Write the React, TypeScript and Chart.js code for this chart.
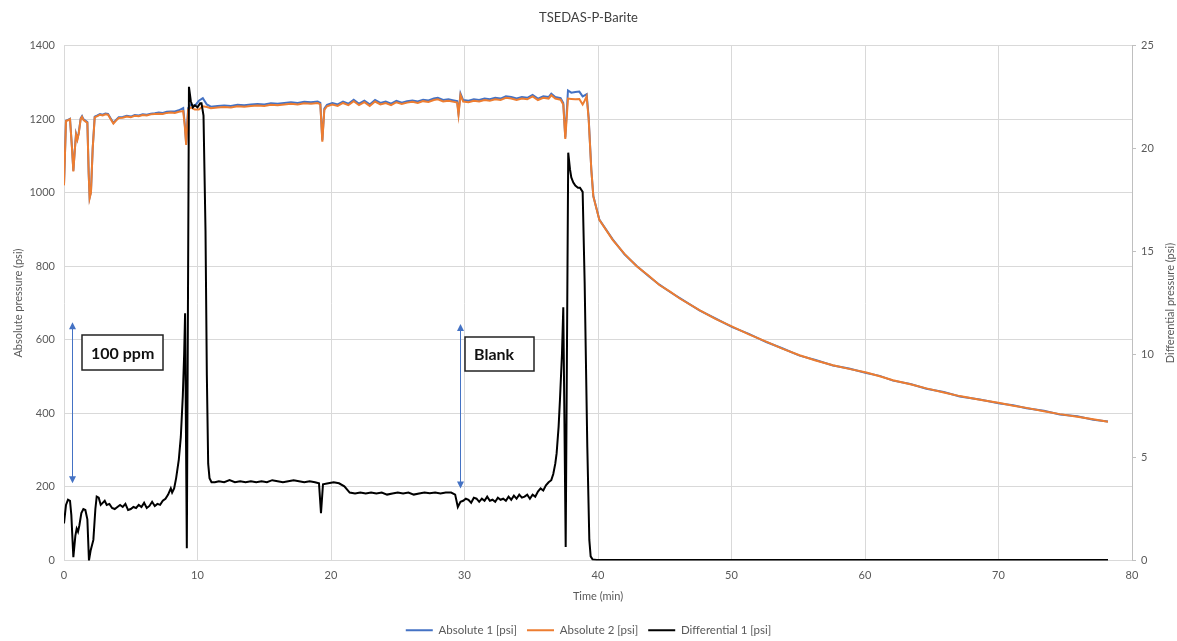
import React, { useEffect, useRef } from 'react';
import { Chart, registerables } from 'chart.js';

Chart.register(...registerables);

const FONT = 'Lato, "Open Sans", sans-serif';
const TEXT_COLOR = '#595959';

// ---- Data (time in minutes) ----
const absTime = [
  0.0, 0.15, 0.3, 0.45, 0.6, 0.7, 0.8, 0.9, 1.0, 1.1,
  1.25, 1.35, 1.45, 1.6, 1.75, 1.85, 1.92, 2.02, 2.15, 2.3,
  2.5, 2.7, 2.9, 3.1, 3.3, 3.5, 3.7, 3.9, 4.1, 4.4,
  4.7, 5.0, 5.3, 5.6, 5.9, 6.2, 6.5, 6.8, 7.1, 7.4,
  7.7, 8.0, 8.3, 8.6, 8.93, 9.05, 9.15, 9.3, 9.5, 9.8,
  10.1, 10.4, 10.7, 11.0, 11.5, 12.0, 12.5, 13.0, 13.5, 14.0,
  14.5, 15.0, 15.5, 16.0, 16.5, 17.0, 17.5, 18.0, 18.5, 19.0,
  19.2, 19.35, 19.5, 19.7, 20.1, 20.5, 20.9, 21.3, 21.7, 22.1,
  22.5, 22.9, 23.3, 23.7, 24.1, 24.5, 24.9, 25.3, 25.7, 26.1,
  26.5, 26.9, 27.3, 27.7, 28.0, 28.4, 28.8, 29.2, 29.45, 29.55,
  29.7, 29.9, 30.3, 30.7, 31.1, 31.5, 31.9, 32.3, 32.7, 33.1,
  33.5, 33.9, 34.3, 34.7, 35.1, 35.5, 35.9, 36.3, 36.5, 36.8,
  37.2, 37.4, 37.55, 37.75, 38.0, 38.3, 38.6, 38.85, 39.0, 39.15,
  39.3, 39.5, 39.65, 40.1, 41.1, 42.0, 42.9, 43.8, 44.6, 45.4,
  46.1, 47.6, 48.8, 50.1, 51.3, 52.6, 53.8, 55.1, 56.3, 57.6,
  58.8, 60.1, 61.1, 62.1, 63.4, 64.6, 65.9, 67.1, 68.6, 70.1,
  71.1, 72.1, 73.4, 74.6, 75.9, 77.1, 78.2,
];

const absolute1 = [
  1022, 1196, 1198, 1201, 1122, 1060, 1112, 1160, 1146, 1162,
  1202, 1208, 1200, 1196, 1192, 1052, 987, 1002, 1122, 1207,
  1210, 1214, 1212, 1215, 1214, 1202, 1190, 1198, 1205, 1206,
  1209, 1207, 1211, 1210, 1213, 1212, 1215, 1216, 1218, 1217,
  1220, 1221, 1221, 1224, 1230, 1186, 1134, 1230, 1240, 1236,
  1250, 1257, 1240, 1234, 1236, 1237, 1236, 1239, 1238, 1240,
  1241, 1240, 1243, 1242, 1244, 1246, 1244, 1247, 1246, 1248,
  1244, 1143, 1229, 1239, 1244, 1240, 1248, 1242, 1253, 1242,
  1250, 1240, 1252, 1244, 1248, 1242, 1250, 1245, 1249, 1251,
  1248, 1253, 1251, 1256, 1258, 1252, 1254, 1251, 1249, 1216,
  1270, 1252, 1250, 1254, 1252, 1256, 1254, 1258, 1256, 1262,
  1260, 1256, 1260, 1258, 1266, 1256, 1262, 1260, 1269, 1260,
  1257, 1244, 1150, 1278, 1272, 1274, 1275, 1262, 1265, 1268,
  1205, 1063, 991, 927, 873, 832, 801, 773, 750, 730,
  714, 680, 658, 634, 616, 594, 577, 557, 545, 530,
  522, 510, 502, 489, 480, 467, 458, 446, 438, 427,
  422, 414, 407, 397, 392, 383, 378,
];

const absolute2 = [
  1020, 1195, 1197, 1200, 1120, 1058, 1110, 1158, 1144, 1160,
  1200, 1206, 1198, 1194, 1190, 1050, 985, 1000, 1120, 1205,
  1208, 1212, 1210, 1213, 1212, 1200, 1188, 1196, 1203, 1204,
  1207, 1205, 1209, 1208, 1211, 1210, 1213, 1214, 1215, 1214,
  1217, 1218, 1217, 1220, 1222, 1180, 1130, 1226, 1232, 1226,
  1226, 1235, 1233, 1230, 1232, 1233, 1232, 1235, 1234, 1236,
  1237, 1236, 1239, 1238, 1240, 1242, 1240, 1243, 1242, 1244,
  1240, 1139, 1225, 1235, 1240, 1236, 1244, 1238, 1249, 1238,
  1246, 1236, 1248, 1240, 1244, 1238, 1246, 1241, 1245, 1247,
  1244, 1249, 1247, 1252, 1254, 1248, 1250, 1247, 1245, 1212,
  1266, 1248, 1246, 1250, 1248, 1252, 1250, 1254, 1252, 1258,
  1256, 1252, 1256, 1254, 1262, 1252, 1258, 1256, 1265, 1256,
  1253, 1240, 1146, 1256, 1255, 1254, 1255, 1240, 1250, 1262,
  1200, 1062, 990, 926, 872, 833, 800, 774, 749, 731,
  713, 681, 657, 635, 615, 595, 576, 558, 544, 531,
  521, 511, 501, 490, 479, 468, 457, 447, 437, 428,
  421, 415, 406, 398, 391, 384, 377,
];

const diffTime = [
  0.0, 0.15, 0.3, 0.45, 0.55, 0.7, 0.85, 0.95, 1.05, 1.15,
  1.3, 1.45, 1.6, 1.75, 1.87, 2.0, 2.2, 2.35, 2.45, 2.6,
  2.75, 2.9, 3.05, 3.2, 3.4, 3.6, 3.8, 4.0, 4.2, 4.4,
  4.6, 4.8, 5.0, 5.2, 5.4, 5.6, 5.8, 6.0, 6.2, 6.4,
  6.6, 6.8, 7.0, 7.2, 7.4, 7.6, 7.8, 8.0, 8.1, 8.25,
  8.4, 8.6, 8.75, 8.9, 9.0, 9.07, 9.2, 9.36, 9.5, 9.65,
  9.8, 10.0, 10.2, 10.3, 10.45, 10.6, 10.7, 10.8, 10.9, 11.05,
  11.3, 11.6, 12.0, 12.4, 12.8, 13.2, 13.6, 14.0, 14.4, 14.8,
  15.2, 15.6, 16.0, 16.4, 16.8, 17.2, 17.6, 18.0, 18.4, 18.8,
  19.1, 19.25, 19.4, 19.8, 20.2, 20.6, 21.0, 21.4, 21.8, 22.2,
  22.6, 23.0, 23.4, 23.8, 24.2, 24.6, 25.0, 25.4, 25.8, 26.2,
  26.6, 27.0, 27.4, 27.8, 28.2, 28.6, 29.0, 29.3, 29.5, 29.7,
  29.9, 30.1, 30.3, 30.5, 30.7, 30.9, 31.1, 31.3, 31.5, 31.7,
  31.9, 32.1, 32.3, 32.5, 32.7, 32.9, 33.1, 33.3, 33.5, 33.7,
  33.9, 34.1, 34.3, 34.5, 34.7, 34.9, 35.1, 35.3, 35.5, 35.7,
  35.9, 36.1, 36.3, 36.5, 36.65, 36.8, 36.9, 37.05, 37.15, 37.3,
  37.4, 37.58, 37.77, 37.9, 38.0, 38.15, 38.3, 38.5, 38.65, 38.85,
  39.0, 39.2, 39.35, 39.45, 39.6, 39.9, 45.0, 50.0, 60.0, 70.0,
  78.2,
];

const differential1 = [
  1.8, 2.7, 2.95, 2.9, 2.2, 0.16, 1.2, 1.55, 1.4, 1.7,
  2.3, 2.5, 2.45, 2.0, 0.0, 0.5, 1.0, 2.5, 3.1, 3.05,
  2.7, 2.8, 2.9, 2.7, 2.75, 2.55, 2.5, 2.6, 2.7, 2.6,
  2.75, 2.45, 2.5, 2.6, 2.55, 2.7, 2.6, 2.8, 2.55, 2.65,
  2.85, 2.65, 2.75, 2.7, 2.9, 3.0, 3.2, 3.5, 3.3, 3.5,
  4.0, 4.9, 6.0, 8.0, 10.0, 12.0, 0.6, 23.0, 22.3, 22.0,
  22.1, 22.0, 22.2, 22.2, 21.6, 16.0, 9.0, 4.7, 4.0, 3.8,
  3.8, 3.85, 3.8, 3.9, 3.8, 3.85, 3.8, 3.85, 3.8, 3.85,
  3.8, 3.9, 3.85, 3.8, 3.85, 3.9, 3.85, 3.8, 3.85, 3.8,
  3.75, 2.3, 3.7, 3.75, 3.8, 3.75, 3.6, 3.3, 3.25, 3.3,
  3.25, 3.3, 3.25, 3.3, 3.2, 3.25, 3.3, 3.25, 3.3, 3.2,
  3.25, 3.3, 3.27, 3.3, 3.25, 3.3, 3.3, 3.2, 2.6, 2.85,
  2.9, 3.0, 2.95, 2.8, 3.05, 3.0, 2.85, 3.0, 2.9, 3.1,
  2.9, 2.95, 2.85, 3.05, 2.95, 3.0, 2.9, 3.1, 2.95, 3.15,
  3.0, 3.2, 3.05, 3.1, 3.2, 3.0, 3.2, 3.1, 3.35, 3.5,
  3.4, 3.65, 3.8, 3.9, 4.2, 4.7, 5.2, 6.5, 7.8, 10.0,
  12.3, 0.65, 19.8, 19.0, 18.6, 18.35, 18.2, 18.1, 18.1, 17.9,
  13.5, 5.5, 1.0, 0.2, 0.05, 0.03, 0.03, 0.03, 0.03, 0.03,
  0.03,
];

const seriesLabels = ['Absolute 1 [psi]', 'Absolute 2 [psi]', 'Differential 1 [psi]'];

// ---- Annotations (in data units: minutes, absolute psi) ----
const arrowTimes = [0.6, 29.65];
const arrowLow = [210, 196];
const arrowHigh = [648, 643];
const noteTexts = ['100 ppm', 'Blank'];
const noteLeft = [1.35, 30.0];
const noteRight = [7.4, 35.2];
const noteTop = [613, 607];
const noteBottom = [517, 515];

const annotationPlugin = {
  id: 'notes',
  afterDatasetsDraw(chart: any) {
    const { ctx } = chart;
    const xs = chart.scales.x;
    const ys = chart.scales.y;
    ctx.save();
    arrowTimes.forEach((t, i) => {
      const px = Math.round(xs.getPixelForValue(t)) + 0.5;
      const yLow = ys.getPixelForValue(arrowLow[i]);
      const yHigh = ys.getPixelForValue(arrowHigh[i]);
      ctx.strokeStyle = '#4472C4';
      ctx.fillStyle = '#4472C4';
      ctx.lineWidth = 1;
      ctx.beginPath();
      ctx.moveTo(px, yLow - 5);
      ctx.lineTo(px, yHigh + 5);
      ctx.stroke();
      ctx.beginPath();
      ctx.moveTo(px, yHigh);
      ctx.lineTo(px - 3.5, yHigh + 7);
      ctx.lineTo(px + 3.5, yHigh + 7);
      ctx.closePath();
      ctx.fill();
      ctx.beginPath();
      ctx.moveTo(px, yLow);
      ctx.lineTo(px - 3.5, yLow - 7);
      ctx.lineTo(px + 3.5, yLow - 7);
      ctx.closePath();
      ctx.fill();
    });
    noteTexts.forEach((txt, i) => {
      const l = Math.round(xs.getPixelForValue(noteLeft[i]));
      const r = Math.round(xs.getPixelForValue(noteRight[i]));
      const top = Math.round(ys.getPixelForValue(noteTop[i]));
      const b = Math.round(ys.getPixelForValue(noteBottom[i]));
      ctx.fillStyle = '#ffffff';
      ctx.fillRect(l, top, r - l, b - top);
      ctx.strokeStyle = '#222222';
      ctx.lineWidth = 1.5;
      ctx.strokeRect(l, top, r - l, b - top);
      ctx.fillStyle = '#111111';
      ctx.font = `bold 16px ${FONT}`;
      ctx.textAlign = 'left';
      ctx.textBaseline = 'middle';
      ctx.fillText(txt, l + 9, (top + b) / 2 + 1);
    });
    ctx.restore();
  },
};

const rightTitlePlugin = {
  id: 'rightTitle',
  afterDraw(chart: any) {
    const { ctx, chartArea } = chart;
    ctx.save();
    ctx.translate(1170, (chartArea.top + chartArea.bottom) / 2);
    ctx.rotate(-Math.PI / 2);
    ctx.font = `11px ${FONT}`;
    ctx.fillStyle = TEXT_COLOR;
    ctx.textAlign = 'center';
    ctx.textBaseline = 'middle';
    ctx.fillText('Differential pressure (psi)', 0, 0);
    ctx.restore();
  },
};

const plainNumber = (v: any) => String(v);

export default function App() {
  const ref = useRef<HTMLCanvasElement>(null);

  useEffect(() => {
    if (!ref.current) return;
    const tickFont = { family: FONT, size: 11 };
    const chart = new Chart(ref.current, {
      type: 'line',
      data: {
        datasets: [
          {
            label: seriesLabels[0],
            data: absTime.map((t, i) => ({ x: t, y: absolute1[i] })),
            borderColor: '#4472C4',
            backgroundColor: '#4472C4',
            borderWidth: 2,
            pointRadius: 0,
            tension: 0,
            yAxisID: 'y',
            order: 2,
          },
          {
            label: seriesLabels[1],
            data: absTime.map((t, i) => ({ x: t, y: absolute2[i] })),
            borderColor: '#ED7D31',
            backgroundColor: '#ED7D31',
            borderWidth: 2,
            pointRadius: 0,
            tension: 0,
            yAxisID: 'y',
            order: 1,
          },
          {
            label: seriesLabels[2],
            data: diffTime.map((t, i) => ({ x: t, y: differential1[i] })),
            borderColor: '#000000',
            backgroundColor: '#000000',
            borderWidth: 2,
            pointRadius: 0,
            tension: 0,
            yAxisID: 'y1',
            order: 0,
          },
        ],
      },
      options: {
        responsive: true,
        maintainAspectRatio: false,
        animation: false,
        events: [],
        layout: { padding: 0 },
        plugins: {
          title: {
            display: true,
            text: 'TSEDAS-P-Barite',
            color: '#404040',
            font: { family: FONT, size: 13, weight: 'normal' },
            padding: { top: 10, bottom: 20 },
          },
          legend: {
            position: 'bottom',
            labels: {
              usePointStyle: true,
              pointStyle: 'line',
              pointStyleWidth: 27,
              color: TEXT_COLOR,
              font: { family: FONT, size: 11.5 },
              padding: 10,
              sort: (a: any, b: any) => a.datasetIndex - b.datasetIndex,
            },
          },
          tooltip: { enabled: false },
        },
        scales: {
          x: {
            type: 'linear',
            min: 0,
            max: 80,
            ticks: { stepSize: 10, color: TEXT_COLOR, font: tickFont, padding: 8, callback: plainNumber },
            grid: { color: '#D9D9D9', drawTicks: false },
            border: { display: false },
            title: {
              display: true,
              text: 'Time (min)',
              color: TEXT_COLOR,
              font: tickFont,
              padding: { top: 0, bottom: 11 },
            },
            afterFit: (s: any) => { s.height = 54; },
          },
          y: {
            type: 'linear',
            position: 'left',
            min: 0,
            max: 1400,
            ticks: { stepSize: 200, color: TEXT_COLOR, font: tickFont, padding: 9, callback: plainNumber },
            grid: { color: '#D9D9D9', drawTicks: false },
            border: { display: false },
            title: {
              display: true,
              text: 'Absolute pressure (psi)',
              color: TEXT_COLOR,
              font: tickFont,
              padding: { top: 12, bottom: 0 },
            },
            afterFit: (s: any) => { s.width = 64; },
          },
          y1: {
            type: 'linear',
            position: 'right',
            min: 0,
            max: 25,
            ticks: { stepSize: 5, color: TEXT_COLOR, font: tickFont, padding: 5, callback: plainNumber },
            grid: { drawOnChartArea: false, color: '#BFBFBF', tickLength: 4 },
            border: { display: true, color: '#BFBFBF' },
            title: { display: false },
            afterFit: (s: any) => { s.width = 45; },
          },
        },
      },
      plugins: [annotationPlugin, rightTitlePlugin],
    } as any);
    return () => chart.destroy();
  }, []);

  return (
    <div style={{ position: 'fixed', left: 0, top: 0, width: 1177, height: 646, background: '#fff' }}>
      <canvas ref={ref} />
    </div>
  );
}
